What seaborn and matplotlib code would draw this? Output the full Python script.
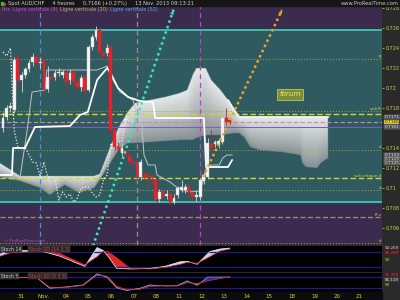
import numpy as np
import pandas as pd
import matplotlib
matplotlib.use("Agg")
import matplotlib.pyplot as plt
import matplotlib.transforms as mtransforms
import seaborn as sns

# ---------------- data ----------------
candle_open = [0.7160, 0.7171, 0.7180, 0.7178, 0.7230, 0.7208, 0.7213, 0.7219, 0.7226, 0.7231,
               0.7225, 0.7228, 0.7199, 0.7211, 0.7211, 0.7215, 0.7213, 0.7216, 0.7208, 0.7216,
               0.7206, 0.7201, 0.7211, 0.7198, 0.7241, 0.7251, 0.7258, 0.7235, 0.7235, 0.7241,
               0.7158, 0.7141, 0.7135, 0.7136, 0.7132, 0.7126, 0.7125, 0.7111, 0.7114, 0.7113,
               0.7112, 0.7108, 0.7089, 0.7097, 0.7092, 0.7094, 0.7086, 0.7093, 0.7098, 0.7098,
               0.7102, 0.7095, 0.7091, 0.7091, 0.7107, 0.7111, 0.7144, 0.7144, 0.7143, 0.7146,
               0.7170, 0.7168]
candle_high = [0.7176, 0.7183, 0.7186, 0.7231, 0.7232, 0.7216, 0.7221, 0.7228, 0.7235, 0.7234,
               0.7230, 0.7232, 0.7222, 0.7214, 0.7218, 0.7220, 0.7218, 0.7219, 0.7218, 0.7218,
               0.7209, 0.7213, 0.7213, 0.7243, 0.7254, 0.7262, 0.7261, 0.7238, 0.7244, 0.7243,
               0.7160, 0.7146, 0.7145, 0.7140, 0.7136, 0.7129, 0.7127, 0.7129, 0.7118, 0.7116,
               0.7114, 0.7111, 0.7099, 0.7099, 0.7098, 0.7097, 0.7094, 0.7102, 0.7108, 0.7104,
               0.7104, 0.7097, 0.7097, 0.7110, 0.7116, 0.7150, 0.7158, 0.7148, 0.7150, 0.7172,
               0.7180, 0.7170]
candle_low = [0.7156, 0.7168, 0.7176, 0.7175, 0.7200, 0.7196, 0.7210, 0.7216, 0.7222, 0.7222,
              0.7220, 0.7196, 0.7196, 0.7206, 0.7208, 0.7212, 0.7210, 0.7198, 0.7204, 0.7200,
              0.7198, 0.7197, 0.7194, 0.7196, 0.7238, 0.7248, 0.7233, 0.7229, 0.7232, 0.7155,
              0.7138, 0.7135, 0.7132, 0.7130, 0.7124, 0.7120, 0.7108, 0.7108, 0.7106, 0.7100,
              0.7104, 0.7086, 0.7086, 0.7088, 0.7089, 0.7083, 0.7084, 0.7090, 0.7096, 0.7095,
              0.7092, 0.7088, 0.7087, 0.7088, 0.7104, 0.7109, 0.7135, 0.7141, 0.7140, 0.7144,
              0.7163, 0.7164]
candle_close = [0.7170, 0.7180, 0.7182, 0.7228, 0.7208, 0.7213, 0.7219, 0.7225, 0.7231, 0.7225,
                0.7226, 0.7199, 0.7211, 0.7209, 0.7215, 0.7216, 0.7216, 0.7206, 0.7215, 0.7206,
                0.7201, 0.7210, 0.7197, 0.7241, 0.7251, 0.7258, 0.7236, 0.7232, 0.7240, 0.7158,
                0.7141, 0.7139, 0.7140, 0.7133, 0.7126, 0.7125, 0.7111, 0.7126, 0.7111, 0.7111,
                0.7110, 0.7088, 0.7096, 0.7091, 0.7094, 0.7086, 0.7090, 0.7100, 0.7101, 0.7101,
                0.7095, 0.7091, 0.7093, 0.7108, 0.7113, 0.7145, 0.7140, 0.7146, 0.7147, 0.7170,
                0.7166, 0.7166]

# Ichimoku lines (candle index, price)
kijun_idx = [-0.8, 2.4, 2.7, 5.9, 8.6, 18.0, 20.7, 22.8, 25.3, 28.0, 28.8, 30.9, 33.6, 36.8,
             40.3, 40.9, 54.0, 54.6, 60.5, 61.6]
kijun_val = [0.7113, 0.7113, 0.7140, 0.7140, 0.7161, 0.7162, 0.7173, 0.7176, 0.7208, 0.7220,
             0.7216, 0.7200, 0.7191, 0.7187, 0.7186, 0.7170, 0.7170, 0.7121, 0.7121, 0.7128]
tenkan_idx = [4.6, 6.5, 7.8, 11.3, 11.8, 25.3, 28.0, 28.8, 31.5, 34.9, 36.0, 37.1, 37.9, 39.0,
              40.9, 41.4, 44.9, 47.0, 50.0, 53.0, 54.8, 55.9, 58.1, 59.1, 60.2, 61.6]
tenkan_val = [0.7111, 0.7158, 0.7196, 0.7198, 0.7218, 0.7218, 0.7222, 0.7213, 0.7196, 0.7188,
              0.7176, 0.7176, 0.7133, 0.7123, 0.7123, 0.7113, 0.7106, 0.7100, 0.7096, 0.7097,
              0.7119, 0.7123, 0.7123, 0.7130, 0.7133, 0.7133]
cloud_idx = [-1, 2, 4.5, 10, 12.5, 16.5, 20.5, 24.5, 26, 28.5, 31, 33.5, 35.5, 39.5, 43.5,
             47.5, 49.5, 51, 52, 54.5, 56, 58.5, 60.5, 62.5, 63.5, 65, 66.5, 69, 75, 80,
             80.5, 81.5, 84.5, 85.5, 87.5]
cloud_top = [0.7125, 0.7118, 0.7112, 0.7112, 0.7112, 0.7112, 0.7112, 0.7112, 0.7114, 0.7138,
             0.7160, 0.7176, 0.7185, 0.7188, 0.7191, 0.7195, 0.7198, 0.7213, 0.7220, 0.7220,
             0.7208, 0.7198, 0.7188, 0.7176, 0.7171, 0.7171, 0.7171, 0.7171, 0.7171, 0.7171,
             0.7171, 0.7171, 0.7171, 0.7171, 0.7171]
cloud_bot = [0.7111, 0.7109, 0.7107, 0.7100, 0.7093, 0.7103, 0.7095, 0.7100, 0.7108, 0.7123,
             0.7138, 0.7145, 0.7145, 0.7146, 0.7147, 0.7148, 0.7148, 0.7148, 0.7150, 0.7153,
             0.7153, 0.7153, 0.7154, 0.7155, 0.7155, 0.7150, 0.7141, 0.7138, 0.7136, 0.7133,
             0.7125, 0.7121, 0.7120, 0.7125, 0.7130]
chikou_shift = 26

# horizontal levels
band_low, band_high = 0.7086, 0.7258
dotted_levels = [0.7229, 0.7177, 0.7138, 0.7098, 0.7045]
yellow_dashed_levels = [0.7174, 0.7110]
khaki_dashed_level = 0.7071
price_level = 0.7166
purple_level = 0.7161
vertical_lines = [10, 36, 53]

# trend arrows (index, price)
cyan_trend = ([24.2, 46.0], [0.7042, 0.7280])
orange_trend = ([53.8, 75.0], [0.7111, 0.7278])

# stochastics
stoch1_idx = [-0.8, 1.9, 10.8, 15.3, 22.0, 25.3, 26.9, 28.2, 30.6, 34.1, 35.0, 39.5, 43.5,
              47.6, 49.5, 52.2, 55.6, 58.3, 61.0]
stoch1_k = [70, 88, 80, 62, 22, 96, 85, 62, 14, 12, 12, 14, 22, 40, 42, 30, 80, 90, 94]
stoch1_d = [62, 75, 82, 72, 28, 60, 82, 80, 55, 15, 14, 12, 18, 30, 38, 34, 60, 82, 90]
stoch2_idx = [-0.8, 9.1, 12.6, 17.2, 21.5, 25.3, 28.0, 30.6, 33.3, 36.8, 39.5, 44.0, 46.8,
              49.5, 52.2, 55.1, 61.0]
stoch2_k = [82, 76, 20, 28, 38, 98, 78, 22, 8, 20, 38, 32, 34, 60, 36, 80, 80]
stoch2_d = [80, 78, 25, 25, 35, 90, 85, 30, 12, 14, 30, 34, 32, 50, 45, 60, 82]

day_labels = ["31", "Nov.", "04", "05", "06", "07", "08", "11", "12", "13", "14", "15",
              "18", "19", "20", "21"]
price_ticks = [0.728, 0.726, 0.724, 0.722, 0.72, 0.718, 0.714, 0.712, 0.71, 0.708, 0.706]

# ---------------- style ----------------
sns.set_theme(style="dark")
plt.rcParams["font.family"] = ["DejaVu Sans"]

W, H = 400, 300
fig = plt.figure(figsize=(4, 3), dpi=100, facecolor="#2a2a2a")
fx = lambda px: px / W
fy = lambda py: 1 - py / H

XMIN, XMAX = -0.81, 101.9
YMIN, YMAX = 0.7043, 0.7282
PURPLE = "#3a2b4f"
TEAL = "#2f5a60"
TICKC = "#d8d040"

ax = fig.add_axes([0, fy(245), fx(382), fy(6) - fy(245)])
ax1 = fig.add_axes([0, fy(272), fx(382), fy(246) - fy(272)])
ax2 = fig.add_axes([0, fy(292), fx(382), fy(273) - fy(292)])

# figure strips
fig.patches.append(plt.Rectangle((0, fy(6)), 1, fy(0) - fy(6), transform=fig.transFigure,
                                 color="#161616", zorder=0))
fig.patches.append(plt.Rectangle((0, 0), fx(382), fy(292), transform=fig.transFigure,
                                 color="#0c0c0c", zorder=0))

# ---------------- main panel ----------------
ax.set_facecolor(PURPLE)
ax.axhspan(band_low, band_high, color=TEAL, zorder=0)
for lv in (band_low, band_high):
    ax.axhline(lv, color="#3cc8ae", lw=1.3, zorder=2)

# cloud with vertical gradient
gx = np.linspace(XMIN, XMAX, 900)
gy = np.linspace(YMIN, YMAX, 600)
top = np.interp(gx, cloud_idx, cloud_top, left=np.nan, right=np.nan)
bot = np.interp(gx, cloud_idx, cloud_bot, left=np.nan, right=np.nan)
GX, GY = np.meshgrid(gx, gy)
T = (GY - bot[None, :]) / (top - bot)[None, :]
T = np.nan_to_num(T, nan=-1.0)
inside = (T >= 0) & (T <= 1)
lo = np.array([0.52, 0.56, 0.57])
hi = np.array([0.90, 0.91, 0.91])
Tc = np.clip(T, 0, 1) ** 0.9
rgb = lo + (hi - lo) * Tc[..., None]
img = np.dstack([rgb, inside.astype(float)])
ax.imshow(img, extent=(XMIN, XMAX, YMIN, YMAX), origin="lower", aspect="auto",
          interpolation="bilinear", zorder=1)
sel = [i for i, v in enumerate(cloud_idx) if v >= 60]
ax.plot([cloud_idx[i] for i in sel], [cloud_top[i] for i in sel], color="#f4f4f4", lw=1.3, zorder=3)

# horizontal levels
for lv in dotted_levels:
    ax.axhline(lv, color="#a6a640", lw=0.7, ls=(0, (1, 2)), zorder=2)
for lv in yellow_dashed_levels:
    ax.axhline(lv, color="#d6d622", lw=1.0, ls=(0, (4, 2)), zorder=2)
ax.axhline(khaki_dashed_level, color="#a89060", lw=0.9, ls=(0, (4, 2)), zorder=2)
ax.axhline(price_level, color="#c89090", lw=0.8, ls=(0, (4, 2)), zorder=2)
ax.axhline(purple_level, color="#7a5ac8", lw=0.7, zorder=2)

# vertical lines
for xv, col in zip(vertical_lines, ["#4f8fcf", "#a08c8c", "#c43cc8"]):
    ax.axvline(xv, color=col, lw=0.9, ls=(0, (4, 3)), zorder=2)

# ichimoku lines
sns.lineplot(x=tenkan_idx, y=tenkan_val, ax=ax, color="#c4c4c4", lw=0.7, zorder=3,
             estimator=None, sort=False)
sns.lineplot(x=kijun_idx, y=kijun_val, ax=ax, color="#ffffff", lw=1.3, zorder=3,
             estimator=None, sort=False)
n = len(candle_close)
idx = np.arange(n)
ax.plot(idx[chikou_shift:] - chikou_shift, candle_close[chikou_shift:], color="#f0f0f0",
        lw=0.9, ls=(0, (1, 1.5)), zorder=3)

# candles
o = np.array(candle_open); c = np.array(candle_close)
h = np.array(candle_high); l = np.array(candle_low)
up = c >= o
body_lo = np.minimum(o, c)
body_h = np.maximum(np.abs(c - o), 0.00004)
ax.vlines(idx[up], l[up], h[up], color="#d8d8d8", lw=0.6, zorder=4)
ax.vlines(idx[~up], l[~up], h[~up], color="#b02838", lw=0.6, zorder=4)
ax.bar(idx[up], body_h[up], bottom=body_lo[up], width=0.75, color="#f6f6f6",
       edgecolor="#c8c8c8", lw=0.3, zorder=5)
ax.bar(idx[~up], body_h[~up], bottom=body_lo[~up], width=0.75, color="#e8202c",
       edgecolor="#e8202c", lw=0.3, zorder=5)

# trend arrows
for (tx, ty), col in [(cyan_trend, "#3ee4bc"), (orange_trend, "#f0a428")]:
    ax.plot(tx, ty, color=col, lw=1.8, ls=(0, (1, 1.3)), zorder=6, solid_capstyle="butt")
    ax.annotate("", xy=(tx[1], ty[1]), xytext=(tx[1] - (tx[1] - tx[0]) * 0.03,
                ty[1] - (ty[1] - ty[0]) * 0.03),
                arrowprops=dict(arrowstyle="-|>", color=col, lw=0, mutation_scale=7), zorder=7)

# forum box
ax.text(77.2, 0.71935, "forum", color="#eef070", fontsize=5.2, style="italic",
        ha="center", va="center", zorder=8,
        bbox=dict(boxstyle="square,pad=0.35", fc="#7c8c38", ec="#b8c860", lw=0.6))

# small right-end labels
for lv, t in [(0.7229, "R"), (0.7177, "sub R"), (0.7138, "d"), (0.7110, "sub critique d"),
              (0.7098, "d"), (0.7071, "R s"), (0.7045, "d")]:
    ax.text(101.6, lv + 0.00005, t, color="#e0e040", fontsize=2.8, ha="right", va="bottom", zorder=8)
ax.text(0.3, 0.70445, "© ProRealTime.com", color="#b848c8", fontsize=3, ha="left",
        va="bottom", zorder=8)

ax.set_xlim(XMIN, XMAX)
ax.set_ylim(YMIN, YMAX)
ax.grid(False)
for s in ax.spines.values():
    s.set_visible(False)
ax.set_xticks([])
ax.yaxis.tick_right()
ax.set_yticks(price_ticks)
ax.set_yticklabels([f"{v:g}" for v in price_ticks])
ax.tick_params(axis="y", colors=TICKC, labelsize=3.5, length=1.5, width=0.5, pad=1,
               right=True, left=False, labelright=True, labelleft=False)

# value boxes on the right scale
bt = mtransforms.blended_transform_factory(ax.transAxes, ax.transData)
for lv, t, fc, tc in [(0.7171, "0.7171", "#4a4a4a", "#f0f0f0"),
                      (0.7166, "0.7166", "#e8d820", "#202020"),
                      (0.7161, "0.7161", "#4a4a4a", "#f0f0f0"),
                      (0.7133, "0.7133", "#4a4a4a", "#f0f0f0"),
                      (0.7129, "0.7129", "#4a4a4a", "#f0f0f0"),
                      (0.7125, "0.7125", "#4a4a4a", "#f0f0f0")]:
    ax.text(1.006, lv, t, transform=bt, fontsize=3.1, color=tc, ha="left", va="center",
            clip_on=False, zorder=9,
            bbox=dict(boxstyle="square,pad=0.1", fc=fc, ec="#909090", lw=0.3))

# ---------------- stochastic panels ----------------
def stoch_panel(a, xs, k, d, up_col, dn_col, kcol, label_k, label_d, right_labels):
    a.set_facecolor("#000000")
    a.axhline(80, color="#1c1c88", lw=0.9)
    a.axhline(20, color="#1c1c88", lw=0.9)
    xs = np.array(xs, float); k = np.array(k, float); d = np.array(d, float)
    a.fill_between(xs, k, d, where=k >= d, interpolate=True, color=up_col, lw=0)
    a.fill_between(xs, k, d, where=k < d, interpolate=True, color=dn_col, lw=0)
    sns.lineplot(x=xs, y=k, ax=a, color=kcol, lw=0.5, estimator=None, sort=False)
    sns.lineplot(x=xs, y=d, ax=a, color="#e03030", lw=0.5, estimator=None, sort=False)
    a.set_xlim(XMIN, XMAX)
    a.set_ylim(0, 102)
    a.set_xticks([]); a.set_yticks([])
    a.grid(False)
    for s in a.spines.values():
        s.set_visible(False)
    a.text(0.003, 0.97, label_k, transform=a.transAxes, color="#e0e0e0", fontsize=3.3,
           ha="left", va="top", bbox=dict(boxstyle="square,pad=0.15", fc="#262626", ec="#606060", lw=0.3))
    a.text(0.075, 0.97, label_d, transform=a.transAxes, color="#e04040", fontsize=3.3,
           ha="left", va="top", bbox=dict(boxstyle="square,pad=0.15", fc="#262626", ec="#606060", lw=0.3))
    tb = mtransforms.blended_transform_factory(a.transAxes, a.transData)
    for yv, t, fc, tc in right_labels:
        a.text(1.006, yv, t, transform=tb, fontsize=3.0, color=tc, ha="left", va="center",
               clip_on=False,
               bbox=dict(boxstyle="square,pad=0.08", fc=fc, ec="none") if fc else None)

stoch_panel(ax1, stoch1_idx, stoch1_k, stoch1_d, "#cfcfea", "#e02a2a", "#f0f0ff",
            "Stoch 14", "Stoch SD (14 3 3)",
            [(94, "92.269", "#3a2a2a", "#d0d0d0"), (76, "86.269", "#3a2020", "#e04040"),
             (48, "50", None, TICKC)])
stoch_panel(ax2, stoch2_idx, stoch2_k, stoch2_d, "#2a2ab8", "#c03434", "#b0b0e0",
            "Stoch 5", "Stoch SD (5 3 3)",
            [(92, "91.380", "#3a2020", "#e04040"), (66, "81.119", "#3a3a3a", "#e0e0e0"),
             (38, "50", None, TICKC)])

# ---------------- x labels ----------------
tr = mtransforms.blended_transform_factory(ax.transData, fig.transFigure)
for k, lab in enumerate(day_labels):
    fig.text(4.8 + 6.07 * k, fy(296.5), lab, transform=tr, color=TICKC, fontsize=4.0,
             ha="center", va="center")

# ---------------- header ----------------
fig.patches.append(plt.Rectangle((fx(1), fy(5)), fx(1.5), fx(3) * 4 / 3, transform=fig.transFigure,
                                 color="#30c030", zorder=3))
fig.patches.append(plt.Rectangle((fx(3.5), fy(5)), fx(1.5), fx(2.5) * 4 / 3, transform=fig.transFigure,
                                 color="#d03030", zorder=3))
fig.text(fx(8), fy(3.2), "Spot AUD/CHF     4 heures     0,7166 (+0.27%)     13 Nov. 2013 09:13:21",
         color="#d0d0d0", fontsize=3.7, ha="left", va="center")
fig.text(fx(399), fy(3.2), "www.ProRealTime.com", color="#c8c8c8", fontsize=3.7,
         ha="right", va="center")

renderer = fig.canvas.get_renderer()
xpos = fx(1)
for t, col in [("Prix", "#c848c8"), ("Ligne verticale (9)", "#d040d0"),
               ("Ligne verticale (20)", "#c8b060"), ("Ligne verticale (52)", "#60a8e0")]:
    txt = fig.text(xpos, fy(9.5), t, color=col, fontsize=3.5, ha="left", va="center")
    bb = txt.get_window_extent(renderer=renderer)
    xpos += bb.width / W + fx(2.5)

fig.savefig("out.png", dpi=100, facecolor=fig.get_facecolor())
